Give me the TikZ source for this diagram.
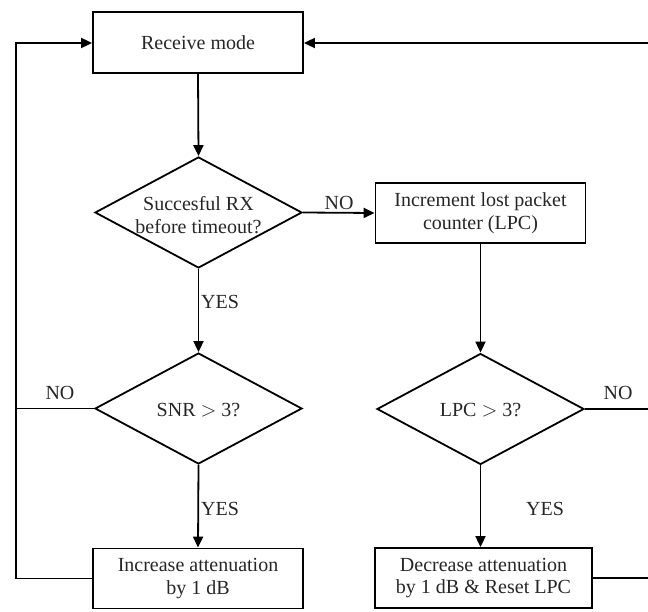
\documentclass[tikz,border=0pt]{standalone}
\usepackage{fontspec}
\setmainfont{Liberation Serif}
\usetikzlibrary{shapes.geometric,arrows.meta}
\begin{document}
\begin{tikzpicture}[x=1pt,y=-1pt,
  every node/.style={font=\fontsize{20}{22.5}\selectfont, text=black!85},
  procbox/.style={draw=black, line width=1.8pt, rectangle, minimum height=60pt, inner sep=0pt, align=center},
  decide/.style={draw=black, line width=1.8pt, diamond, minimum width=207pt, minimum height=111pt, inner sep=0pt},
  dtext/.style={align=center, inner sep=0pt},
  flow/.style={line width=1.8pt, -{Triangle[length=11pt,width=10pt]}},
  plain/.style={line width=1.8pt},
  lbl/.style={inner sep=0pt}
]
\useasboundingbox (0,0) rectangle (648,612);

% nodes
\node[procbox, minimum width=210pt, minimum height=61pt] (recv) at (198,42.5) {Receive mode};
\node[decide] (d1) at (198.5,212.5) {};
\node[dtext] (d1t) at (198.5,215) {Succesful RX\\before timeout?};
\node[procbox, minimum width=210pt] (b2) at (480.5,213) {Increment lost packet\\counter (LPC)};
\node[decide] (d2) at (198.5,408.5) {};
\node[dtext] (d2t) at (198.5,410) {SNR $>$ 3?};
\node[decide] (d3) at (480.5,409) {};
\node[dtext] (d3t) at (480.5,410) {LPC $>$ 3?};
\node[procbox, minimum width=210pt] (b3) at (198,578.5) {Increase attenuation\\by 1 dB};
\node[procbox, minimum width=217pt] (b4) at (483.5,578) {Decrease attenuation\\by 1 dB \& Reset LPC};

% labels
\node[lbl] (lno1) at (339,203) {NO};
\node[lbl] (lyes1) at (220,302) {YES};
\node[lbl] (lno2) at (60,393) {NO};
\node[lbl] (lno3) at (618,393) {NO};
\node[lbl] (lyes2) at (220,509) {YES};
\node[lbl] (lyes3) at (545,509) {YES};

% helper coordinates
\coordinate (lt) at (16,43);
\coordinate (lb) at (16,578.5);
\coordinate (rt) at (651,43);
\coordinate (rb) at (651,578);

% connectors
\draw[flow] (recv.south) -- (d1.north);
\draw[flow] (d1.east) -- (b2.west);
\draw[flow] (d1.south) -- (d2.north);
\draw[flow] (b2.south) -- (d3.north);
\draw[flow] (d2.south) -- (b3.north);
\draw[flow] (d3.south) -- (d3.south |- b4.north);
\draw[plain] (d2.west) -- (lb |- d2.west);
\draw[flow] (b3.west) -- (lb) -- (lt) -- (lt -| recv.west);
\draw[plain] (d3.east) -- (rb |- d3.east);
\draw[flow] (b4.east) -- (rb) -- (rt) -- (rt -| recv.east);
\end{tikzpicture}
\end{document}
